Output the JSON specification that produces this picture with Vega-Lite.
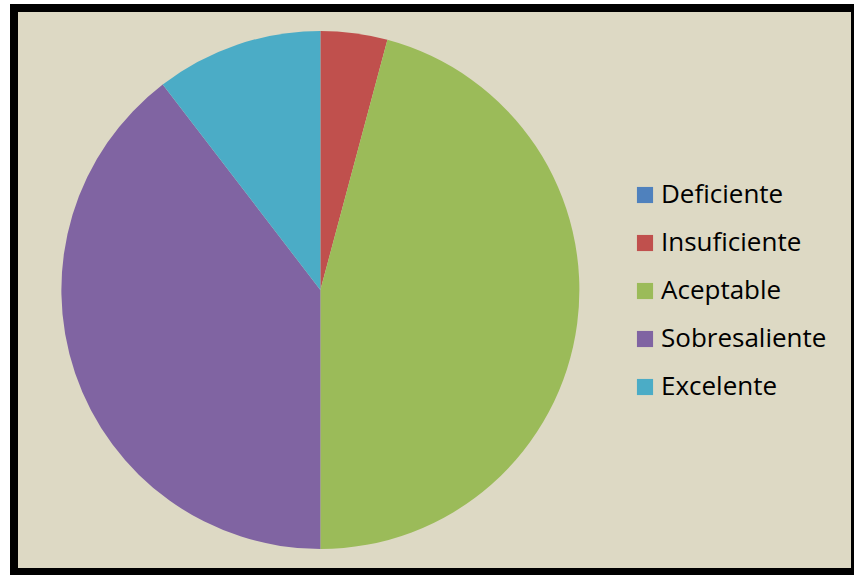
{
  "$schema": "https://vega.github.io/schema/vega-lite/v6.json",
  "autosize": {"type": "none"},
  "width": 841,
  "height": 564,
  "padding": {"left": 14, "top": 8, "right": 0, "bottom": 3},
  "background": "white",
  "view": {"fill": "#DDD9C4", "stroke": "black", "strokeWidth": 8},
  "config": {
    "view": {"fill": "#DDD9C4", "stroke": "black", "strokeWidth": 8},
    "font": "Open Sans"
  },
  "data": {
    "values": [
      {"nivel": "Deficiente", "cantidad": 0, "orden": 1},
      {"nivel": "Insuficiente", "cantidad": 2, "orden": 2},
      {"nivel": "Aceptable", "cantidad": 22, "orden": 3},
      {"nivel": "Sobresaliente", "cantidad": 19, "orden": 4},
      {"nivel": "Excelente", "cantidad": 5, "orden": 5}
    ]
  },
  "mark": {"type": "arc", "radius": 259, "x": {"expr": "width * 0.3643"}, "y": {"expr": "height / 2"}},
  "encoding": {
    "theta": {"field": "cantidad", "type": "quantitative", "stack": true},
    "order": {"field": "orden", "type": "quantitative"},
    "color": {
      "field": "nivel",
      "type": "nominal",
      "scale": {
        "domain": ["Deficiente", "Insuficiente", "Aceptable", "Sobresaliente", "Excelente"],
        "range": ["#4F81BD", "#C0504D", "#9BBB59", "#8064A2", "#4BACC6"]
      },
      "legend": {
        "title": null,
        "orient": "none",
        "legendX": 618,
        "legendY": 174,
        "padding": 0,
        "symbolType": "square",
        "symbolSize": 260,
        "symbolStrokeWidth": 0,
        "symbolOpacity": 1,
        "labelFontSize": 26,
        "labelFont": "Open Sans",
        "labelColor": "black",
        "labelOffset": 3,
        "rowPadding": 22,
        "labelLimit": 300
      }
    }
  }
}
